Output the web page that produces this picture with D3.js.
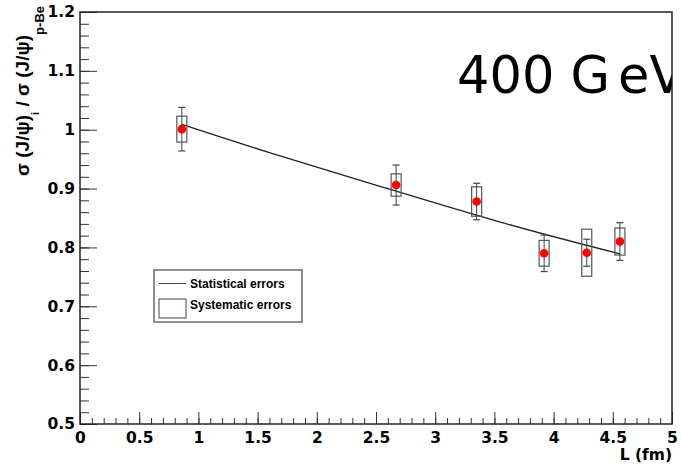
<!DOCTYPE html>
<html>
<head>
<meta charset="utf-8">
<script src="https://cdn.jsdelivr.net/npm/d3@7"></script>
<style>
  html, body { margin: 0; padding: 0; background: #fff; }
  svg { display: block; }
  text { font-family: "Liberation Sans", Arial, sans-serif; }
</style>
</head>
<body>
<svg id="chart" width="681" height="468"></svg>
<script>
// ---- data ----
const pathLength = [0.86, 2.67, 3.35, 3.92, 4.28, 4.56];          // L (fm)
const ratio      = [1.001, 0.906, 0.878, 0.790, 0.791, 0.810];    // sigma ratio
const statErr    = [0.037, 0.034, 0.031, 0.031, 0.023, 0.032];
const sysErr     = [0.022, 0.019, 0.025, 0.022, 0.040, 0.023];
// fit curve, points
const fitL       = [0.86, 1.6, 2.45, 3.55, 4.56];
const fitRatio   = [1.009, 0.961, 0.909, 0.843, 0.789];
const xMajorTicks = [0, 0.5, 1, 1.5, 2, 2.5, 3, 3.5, 4, 4.5, 5];
const yMajorTicks = [0.5, 0.6, 0.7, 0.8, 0.9, 1.0, 1.1, 1.2];
const legendLabels = ["Statistical errors", "Systematic errors"];

(function () {
const svg = d3.select("#chart");
const pL = 80, pR = 672, pT = 12, pB = 424;
const x = d3.scaleLinear().domain([0, 5]).range([pL, pR]);
const y = d3.scaleLinear().domain([0.5, 1.2]).range([pB, pT]);
const tickFont = "'DejaVu Sans', Verdana, sans-serif";

const fmt = d => (Math.abs(d - 1) < 1e-9 ? "1" : String(+d.toFixed(1)));

svg.append("clipPath").attr("id", "padclip")
  .append("rect").attr("x", 0).attr("y", 0).attr("width", pR).attr("height", 468);

// title (clipped at the frame's right edge, as in the reference)
const tt = svg.append("text")
  .attr("clip-path", "url(#padclip)")
  .attr("x", 457).attr("y", 93)
  .style("font-family", tickFont)
  .style("font-size", "51px")
  .attr("fill", "#000");
tt.append("tspan").text("400 G");
tt.append("tspan").attr("dx", 8).text("eV");

// minor ticks
const xMinor = d3.range(0, 51, 1).map(v => v / 10);
const yMinor = d3.range(25, 61, 1).map(v => v / 50);

svg.append("g").attr("transform", `translate(0,${pB})`)
  .call(d3.axisBottom(x).tickValues(xMinor).tickSizeInner(-6).tickSizeOuter(0).tickFormat(""))
  .call(g => g.select(".domain").remove())
  .call(g => g.selectAll("line").attr("stroke", "#333"));

svg.append("g").attr("transform", `translate(${pL},0)`)
  .call(d3.axisLeft(y).tickValues(yMinor).tickSizeInner(-9).tickSizeOuter(0).tickFormat(""))
  .call(g => g.select(".domain").remove())
  .call(g => g.selectAll("line").attr("stroke", "#333"));

// major axes
const xAxis = svg.append("g").attr("transform", `translate(0,${pB})`)
  .call(d3.axisBottom(x).tickValues(xMajorTicks).tickSizeInner(-12).tickSizeOuter(0).tickPadding(8).tickFormat(fmt));
xAxis.select(".domain").remove();
xAxis.selectAll("line").attr("stroke", "#333");
xAxis.selectAll("text").style("font-family", tickFont).style("font-size", "15.5px").style("font-weight", "bold").attr("fill", "#000");

const yAxis = svg.append("g").attr("transform", `translate(${pL},0)`)
  .call(d3.axisLeft(y).tickValues(yMajorTicks).tickSizeInner(-17).tickSizeOuter(0).tickPadding(5).tickFormat(fmt));
yAxis.select(".domain").remove();
yAxis.selectAll("line").attr("stroke", "#333");
yAxis.selectAll("text").style("font-family", tickFont).style("font-size", "15.5px").style("font-weight", "bold").attr("fill", "#000");

// frame
svg.append("rect")
  .attr("x", pL).attr("y", pT)
  .attr("width", pR - pL).attr("height", pB - pT)
  .attr("fill", "none").attr("stroke", "#222").attr("stroke-width", 1.5);

// axis titles
svg.append("text")
  .attr("x", pR).attr("y", 460)
  .attr("text-anchor", "end")
  .style("font-family", tickFont)
  .style("font-size", "15.5px").style("font-weight", "bold")
  .text("L (fm)");

const yt = svg.append("text")
  .attr("transform", "translate(29,6) rotate(-90)")
  .attr("text-anchor", "end")
  .style("font-size", "19px").style("font-weight", "bold");
yt.append("tspan").text("σ (J/ψ)");
yt.append("tspan").attr("dy", 10).style("font-size", "11px").text("i");
yt.append("tspan").attr("dy", -10).text(" / σ (J/ψ)");
yt.append("tspan").attr("dy", 15).style("font-size", "13px").text("p-Be");

// fit curve
const pts = fitL.map((l, i) => [l, fitRatio[i]]);
svg.append("path")
  .datum(pts)
  .attr("fill", "none").attr("stroke", "#222").attr("stroke-width", 1.3)
  .attr("d", d3.line().x(d => x(d[0])).y(d => y(d[1])).curve(d3.curveNatural));

// data
const data = pathLength.map((l, i) => ({ l, r: ratio[i], s: statErr[i], sy: sysErr[i] }));
const g = svg.append("g");
g.selectAll("rect.sys").data(data).enter().append("rect")
  .attr("class", "sys")
  .attr("x", d => x(d.l) - 5).attr("width", 10)
  .attr("y", d => y(d.r + d.sy)).attr("height", d => y(d.r - d.sy) - y(d.r + d.sy))
  .attr("fill", "none").attr("stroke", "#555").attr("stroke-width", 1.2);
g.selectAll("line.stat").data(data).enter().append("line")
  .attr("class", "stat")
  .attr("x1", d => x(d.l)).attr("x2", d => x(d.l))
  .attr("y1", d => y(d.r + d.s)).attr("y2", d => y(d.r - d.s))
  .attr("stroke", "#444").attr("stroke-width", 1);
[1, -1].forEach(sgn => {
  g.selectAll(null).data(data).enter().append("line")
    .attr("x1", d => x(d.l) - 3.5).attr("x2", d => x(d.l) + 3.5)
    .attr("y1", d => y(d.r + sgn * d.s)).attr("y2", d => y(d.r + sgn * d.s))
    .attr("stroke", "#444").attr("stroke-width", 1.2);
});
g.selectAll("circle").data(data).enter().append("circle")
  .attr("cx", d => x(d.l)).attr("cy", d => y(d.r)).attr("r", 4.3)
  .attr("fill", "#ff0000");

// legend
const lg = svg.append("g");
lg.append("rect").attr("x", 154).attr("y", 270).attr("width", 148).attr("height", 52)
  .attr("fill", "#fff").attr("stroke", "#222").attr("stroke-width", 1);
lg.append("line").attr("x1", 159).attr("x2", 186).attr("y1", 283.5).attr("y2", 283.5)
  .attr("stroke", "#444").attr("stroke-width", 1);
lg.append("rect").attr("x", 159).attr("y", 299).attr("width", 27).attr("height", 19)
  .attr("fill", "none").attr("stroke", "#444").attr("stroke-width", 1);
lg.selectAll("text.lab").data(legendLabels).enter().append("text")
  .attr("class", "lab")
  .attr("x", 190).attr("y", (d, i) => [283.5, 305][i]).attr("dy", "0.35em")
  .style("font-size", "12px").style("font-weight", "bold")
  .text(d => d);
})();
</script>
</body>
</html>
